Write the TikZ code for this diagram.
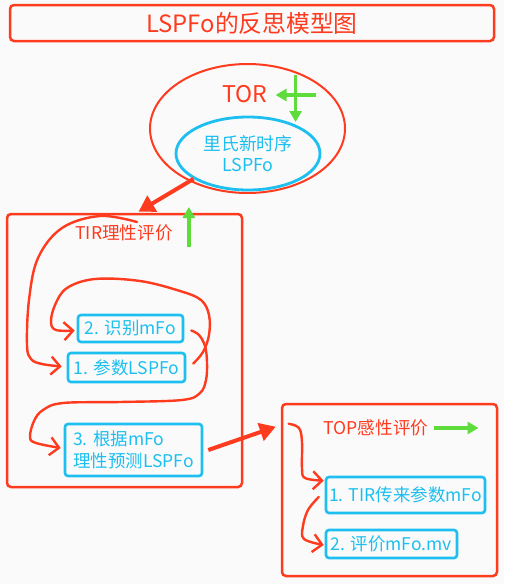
\documentclass[tikz,border=0pt]{standalone}
\usepackage{fontspec}
\setmainfont{Noto Sans CJK SC}
\usetikzlibrary{arrows.meta,shapes.geometric,calc}
\definecolor{penred}{HTML}{FF3B1F}
\definecolor{penblue}{HTML}{1CBFF0}
\definecolor{pengreen}{HTML}{5DDC3C}
\definecolor{paper}{HTML}{FAFAFA}

\begin{document}
\begin{tikzpicture}[x=1pt,y=-1pt,
  redbox/.style={draw=penred,line width=2.5pt,rounded corners=4pt,inner sep=0pt},
  stepbox/.style={draw=penblue,line width=2.6pt,rounded corners=3pt,text=penblue,
    font=\fontsize{17.5}{22}\selectfont,inner sep=0pt,align=left},
  redlabel/.style={text=penred,font=\fontsize{17.6}{20}\selectfont,inner sep=0pt},
  scribble/.style={draw=penred,line width=2.4pt,line cap=round,line join=round,
    -{Straight Barb[length=9pt,width=18pt,line width=2.4pt]}},
  bigarrow/.style={draw=penred,line width=4pt,-{Triangle[length=16pt,width=18pt]}},
  greenarrow/.style={draw=pengreen,line width=3.5pt,-{Triangle[length=11pt,width=12pt]}},
]
\fill[paper] (0,0) rectangle (504,584);
\useasboundingbox (0,0) rectangle (504,584);

% title
\node[redbox,minimum width=484,minimum height=36,text=penred,
  font=\fontsize{23.8}{27}\selectfont] (title) at (252,23) {LSPFo的反思模型图};

% TOR
\node[ellipse,draw=penred,line width=2pt,minimum width=195,minimum height=129,inner sep=0pt] (tor) at (247.5,128.5) {};
\node[text=penred,font=\fontsize{23}{27}\selectfont,inner sep=0pt] (torlabel) at (245,94) {TOR};
\node[ellipse,draw=penblue,line width=2.8pt,minimum width=144,minimum height=73,inner sep=0pt,
  text=penblue,font=\fontsize{17.8}{21}\selectfont,align=center] (lspfo) at (248,153.5) {里氏新时序\\LSPFo};

% TIR
\node[redbox,minimum width=235,minimum height=273] (tir) at (124.5,350.5) {};
\node[redlabel] (tirlabel) at (124,233) {TIR理性评价};
\node[stepbox,minimum width=105,minimum height=27] (b2) at (130.5,328.5) {2. 识别mFo};
\node[stepbox,minimum width=117,minimum height=29] (b1) at (126.5,367.5) {1. 参数LSPFo};
\node[stepbox,minimum width=137,minimum height=52] (b3) at (133.5,450) {3. 根据mFo\\理性预测LSPFo};

% TOP
\node[redbox,minimum width=215,minimum height=172] (top) at (389.5,490) {};
\node[redlabel] (toplabel) at (376,428) {TOP感性评价};
\node[stepbox,minimum width=159,minimum height=36] (t1) at (405.5,495) {1. TIR传来参数mFo};
\node[stepbox,minimum width=131,minimum height=28] (t2) at (391.5,544) {2. 评价mFo.mv};

% hand drawn order
\coordinate (a0) at (137,222);
\draw[scribble] plot[smooth,tension=0.6] coordinates {(a0) (100,216) (62,228) (38,258) (29,300) (27,345) (31,359) (42,364) ($(b1.west)+(-5,-1)$)};
\draw[scribble] plot[smooth,tension=0.6] coordinates {($(b1.east)+(7,-4)$) (203,352) (209,335) (209,315) (201,300) (180,291) (140,281) (95,279) (67,288) (55,305) (51,322) (56,330) ($(b2.west)+(-2,2)$)};
\draw[scribble] plot[smooth,tension=0.6] coordinates {($(b2.east)+(7,2)$) (199,335) (205,346) (207,362) (206,380) (200,393) (182,400) (120,402) (63,403) (43,410) (34,421) (30,437) (36,443) ($(b3.west)+(-3,-2)$)};
\draw[scribble] plot[smooth,tension=0.6] coordinates {($(top.north west)+(8,21)$) (299,428) (302,442) (302,468) (305,478) ($(t1.north west)+(-1,5)$)};
\draw[scribble] plot[smooth,tension=0.6] coordinates {($(t1.west)+(-6,2)$) (308,510) (303,526) (304,539) ($(t2.west)+(-1,1)$)};

% between the parts
\draw[bigarrow] (lspfo.205) -- ($(tir.north)+(14,-1)$);
\draw[bigarrow] ($(b3.east)+(5,0)$) -- ($(top.north west)+(-5,24)$);

% green marks
\draw[greenarrow] ($(torlabel.east)+(48,1)$) -- ($(torlabel.east)+(8,1)$);
\draw[greenarrow] ($(torlabel.east)+(28,-19)$) -- ($(torlabel.east)+(28,28)$);
\draw[greenarrow] ($(tirlabel.east)+(16,14)$) -- ($(tirlabel.east)+(16,-26)$);
\draw[greenarrow] ($(toplabel.east)+(5,0)$) -- ($(toplabel.east)+(50,0)$);
\end{tikzpicture}
\end{document}
